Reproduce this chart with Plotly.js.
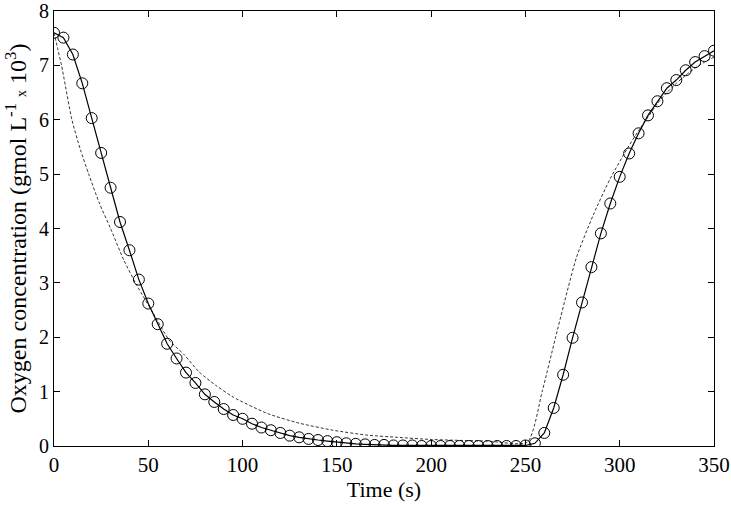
<!DOCTYPE html>
<html>
<head>
<meta charset="utf-8">
<script src="https://cdn.plot.ly/plotly-3.0.1.min.js"></script>
<style>
  html, body { margin: 0; padding: 0; background: #fff; }
  #chart { width: 731px; height: 505px; }
</style>
</head>
<body>
<div id="chart"></div>
<script>
// measured points (circles + solid line), every 5 s
var timePts = [0, 5, 10, 15, 20, 25, 30, 35, 40, 45, 50, 55, 60, 65, 70, 75, 80, 85, 90, 95,
  100, 105, 110, 115, 120, 125, 130, 135, 140, 145, 150, 155, 160, 165, 170, 175, 180, 185, 190, 195,
  200, 205, 210, 215, 220, 225, 230, 235, 240, 245, 250, 255, 260, 265, 270, 275, 280, 285, 290, 295,
  300, 305, 310, 315, 320, 325, 330, 335, 340, 345, 350];
var oxygenPts = [7.6, 7.51, 7.2, 6.67, 6.03, 5.39, 4.75, 4.12, 3.6, 3.06, 2.62, 2.24, 1.88, 1.61, 1.35, 1.16, 0.95, 0.81, 0.68, 0.57,
  0.5, 0.41, 0.34, 0.29, 0.24, 0.19, 0.16, 0.13, 0.11, 0.09, 0.07, 0.05, 0.04, 0.03, 0.02, 0.02, 0.01, 0.01, 0.01, 0,
  0, 0, 0, 0, 0, 0, 0, 0, 0, 0, 0.01, 0.05, 0.24, 0.7, 1.31, 1.99, 2.64, 3.29, 3.91, 4.46,
  4.95, 5.38, 5.75, 6.08, 6.34, 6.58, 6.73, 6.91, 7.06, 7.17, 7.27];

// model curve (dashed)
var timeModel = [0, 2, 4, 9.5, 14, 18.4, 24, 30, 37, 44, 54, 61, 69, 77, 86, 95, 113, 130, 148, 166,
  182, 200, 230, 251, 259, 266, 277, 286, 295, 304, 310, 315, 320, 325, 330, 335, 340, 345, 350];
var oxygenModel = [7.6, 7.3, 7.0, 6.0, 5.45, 5.0, 4.47, 4.0, 3.42, 2.95, 2.36, 1.95, 1.68, 1.36, 1.11, 0.9, 0.6, 0.42, 0.29, 0.2,
  0.16, 0.12, 0.09, 0.07, 1.02, 2.0, 3.46, 4.25, 4.92, 5.47, 5.8, 6.05, 6.3, 6.5, 6.67, 6.82, 6.95, 7.06, 7.15];

var xTicks = [0, 50, 100, 150, 200, 250, 300, 350];
var yTicks = [0, 1, 2, 3, 4, 5, 6, 7, 8];

var serif = '"Liberation Serif", "Times New Roman", serif';

var traces = [
  {
    x: timeModel, y: oxygenModel,
    mode: 'lines', type: 'scatter',
    line: {color: '#000', width: 0.8, dash: '3px,2px', shape: 'spline', smoothing: 0.6},
    hoverinfo: 'skip'
  },
  {
    x: timePts, y: oxygenPts,
    mode: 'lines+markers', type: 'scatter',
    line: {color: '#000', width: 1.2},
    marker: {symbol: 'circle-open', size: 11, color: '#000', line: {width: 1, color: '#000'}}
  }
];

var layout = {
  width: 731, height: 505,
  margin: {l: 54, r: 17, t: 11, b: 59},
  paper_bgcolor: '#fff', plot_bgcolor: '#fff',
  showlegend: false,
  font: {family: serif, color: '#000', size: 20},
  xaxis: {
    range: [0, 350], tickvals: xTicks,
    ticks: 'inside', ticklen: 6, tickcolor: '#000', tickwidth: 1,
    showline: true, linecolor: '#000', linewidth: 1, mirror: 'ticks',
    showgrid: false, zeroline: false, ticklabeloverflow: 'allow',
    tickfont: {family: serif, size: 21},
    title: {text: 'Time (s)', font: {family: serif, size: 22}, standoff: 2}
  },
  yaxis: {
    range: [0, 8], tickvals: yTicks,
    ticks: 'inside', ticklen: 6, tickcolor: '#000', tickwidth: 1,
    showline: true, linecolor: '#000', linewidth: 1, mirror: 'ticks',
    showgrid: false, zeroline: false, ticklabeloverflow: 'allow',
    tickfont: {family: serif, size: 20},
    title: {
      text: 'Oxygen concentration (gmol L<sup>-1</sup> <span style="font-size:14px">x</span> 10<sup>3</sup>)',
      font: {family: serif, size: 24}, standoff: 5
    }
  }
};

Plotly.newPlot('chart', traces, layout, {staticPlot: true});
</script>
</body>
</html>
